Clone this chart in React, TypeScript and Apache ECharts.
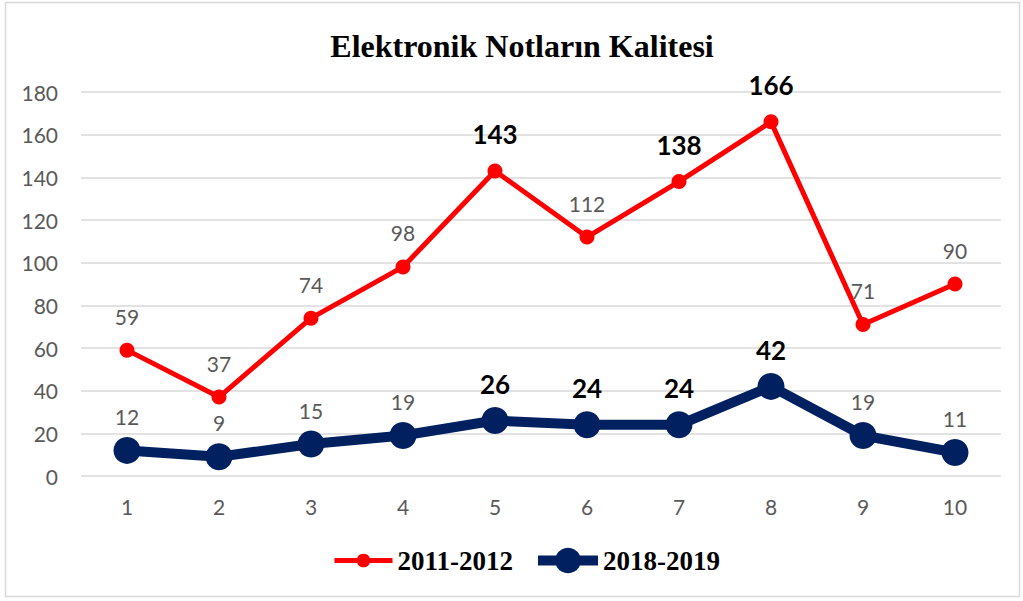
import React, { useEffect, useRef } from "react";
import * as echarts from "echarts";

const categories = ["1", "2", "3", "4", "5", "6", "7", "8", "9", "10"];
const series2011 = [59, 37, 74, 98, 143, 112, 138, 166, 71, 90];
const series2018 = [12, 9, 15, 19, 26, 24, 24, 42, 19, 11];
const bold2011 = [false, false, false, false, true, false, true, true, false, false];
const bold2018 = [false, false, false, false, true, true, true, true, false, false];

const FONT = "Lato, 'Open Sans', sans-serif";
const SERIF = "'Liberation Serif', 'Times New Roman', serif";

function buildData(vals: number[], bolds: boolean[], dNormal: number, dBold: number) {
  return vals.map((v, i) => ({
    value: v,
    label: bolds[i]
      ? { fontFamily: FONT, fontSize: 26, color: "#000000", fontWeight: "bold", distance: dBold }
      : { fontFamily: FONT, fontSize: 21, color: "#595959", fontWeight: "normal", distance: dNormal },
  }));
}

export default function App() {
  const ref = useRef<HTMLDivElement>(null);
  useEffect(() => {
    const chart = echarts.init(ref.current!, null, { renderer: "svg" });
    const legendText = { fontFamily: SERIF, fontWeight: "bold", fontSize: 27, color: "#000" };
    chart.setOption({
      animation: false,
      backgroundColor: "#ffffff",
      title: {
        text: "Elektronik Notların Kalitesi",
        left: 517,
        textAlign: "center",
        top: 25,
        textStyle: { fontFamily: SERIF, fontWeight: "bold", fontSize: 32, color: "#000" },
      },
      graphic: [
        {
          type: "rect",
          shape: { x: 5.5, y: 2.5, width: 1014, height: 594 },
          style: { fill: "none", stroke: "#d9d9d9", lineWidth: 1.5 },
          silent: true,
        },
      ],
      legend: [
        {
          left: 327,
          top: 542,
          itemWidth: 58,
          itemHeight: 17,
          lineStyle: { width: 5 },
          textStyle: legendText,
          data: ["2011-2012"],
        },
        {
          left: 528,
          top: 542,
          itemWidth: 60,
          itemHeight: 32,
          lineStyle: { width: 10 },
          textStyle: legendText,
          data: ["2018-2019"],
        },
      ],
      grid: { left: 81, right: 22, top: 92, bottom: 125 },
      xAxis: {
        type: "category",
        data: categories,
        boundaryGap: true,
        axisLine: { show: false },
        axisTick: { show: false },
        axisLabel: { color: "#595959", fontSize: 21, fontFamily: FONT, margin: 20 },
      },
      yAxis: {
        type: "value",
        min: 0,
        max: 180,
        interval: 20,
        axisLine: { show: false },
        axisTick: { show: false },
        splitLine: { lineStyle: { color: "#d9d9d9", width: 1.5 } },
        axisLabel: { color: "#595959", fontSize: 21, fontFamily: FONT, margin: 23 },
      },
      series: [
        {
          name: "2011-2012",
          type: "line",
          data: buildData(series2011, bold2011, 16, 16),
          symbol: "circle",
          symbolSize: 15,
          itemStyle: { color: "#ff0000" },
          lineStyle: { color: "#ff0000", width: 5 },
          label: { show: true, position: "top" },
          z: 3,
        },
        {
          name: "2018-2019",
          type: "line",
          data: buildData(series2018, bold2018, 10, 10),
          symbol: "circle",
          symbolSize: 27,
          itemStyle: { color: "#002060" },
          lineStyle: { color: "#002060", width: 10 },
          label: { show: true, position: "top" },
          z: 2,
        },
      ],
    });
    return () => chart.dispose();
  }, []);
  return <div ref={ref} style={{ position: "fixed", left: 0, top: 0, width: 1023, height: 601 }} />;
}
